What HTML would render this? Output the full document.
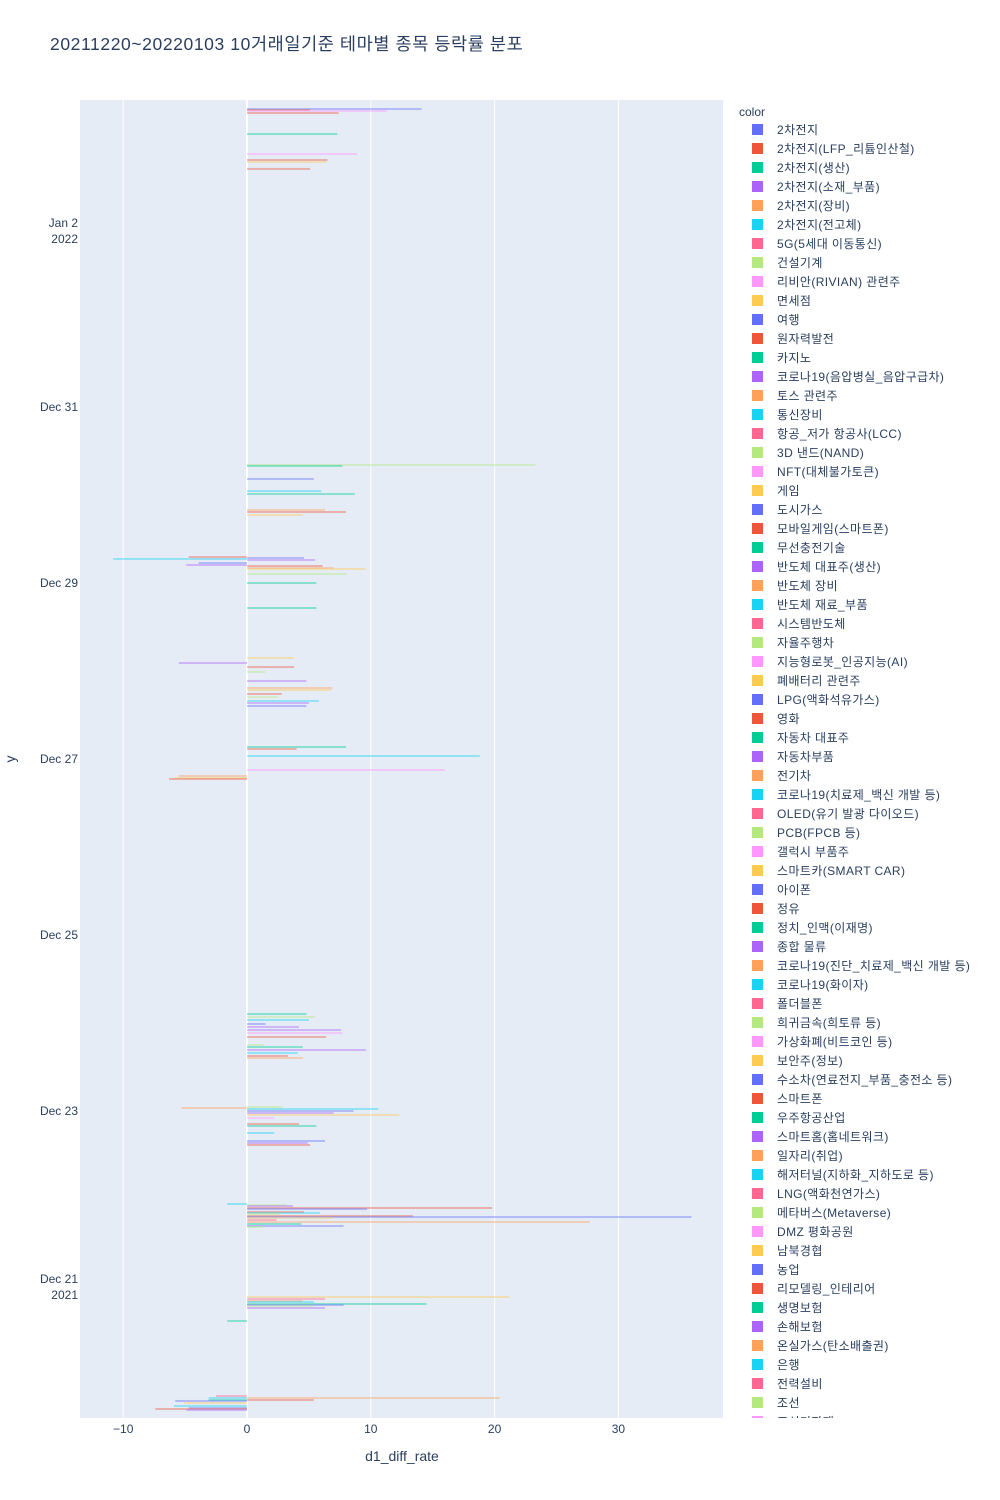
<!DOCTYPE html>
<html><head><meta charset="utf-8">
<style>
body{margin:0;background:#fff;font-family:"Liberation Sans","Noto Sans CJK KR",sans-serif;}
#wrap{position:relative;width:1000px;height:1500px;overflow:hidden;}
</style></head>
<body>
<div id="wrap">
<svg id="chart" width="1000" height="1500" xmlns="http://www.w3.org/2000/svg"></svg>
</div>
<script>
// ---- data ----
const tickLabels = [["Jan 2","2022"],["Dec 31"],["Dec 29"],["Dec 27"],["Dec 25"],["Dec 23"],["Dec 21","2021"]];
const tickDayVals = [12, 10, 8, 6, 4, 2, 0];
const xTicks = [-10, 0, 10, 20, 30];
// bar time positions (days since 2021-12-21 00:00)
const barDays = [13.386,13.375,13.364,13.341,13.102,12.875,12.807,12.784,12.705,
9.341,9.330,9.182,9.045,9.011,8.830,8.807,8.773,8.295,8.284,8.273,8.261,8.227,8.205,8.193,8.170,8.159,8.102,8.0,7.716,
7.148,7.091,7.045,6.989,6.886,6.807,6.784,6.739,6.705,6.659,6.636,6.602,
6.136,6.114,6.034,5.875,5.807,5.784,5.773,
3.102,3.068,3.034,2.989,2.955,2.920,2.886,2.841,2.750,2.727,2.693,2.659,2.625,2.602,
2.045,2.034,2.023,2.0,1.977,1.955,1.920,1.852,1.830,1.750,1.659,1.636,1.614,
0.943,0.932,0.920,0.898,0.886,0.852,0.841,0.830,0.807,0.795,0.784,0.761,0.739,0.716,0.693,0.682,
-0.114,-0.136,-0.159,-0.170,-0.193,-0.205,-0.216,-0.239,-0.386,
-1.239,-1.261,-1.261,-1.284,-1.284,-1.295,-1.318,-1.352,-1.375,-1.386,-1.398];
const barValues = [14.1,5.1,11.3,7.4,7.3,8.9,6.5,6.4,5.1,
23.3,7.7,5.4,6,8.7,6.3,8,4.5,-4.7,4.6,-10.8,5.5,-3.9,-4.9,6.1,7,9.6,8,5.6,5.6,
3.8,-5.5,3.8,1.5,4.8,6.9,6.8,2.8,2.5,5.8,5,4.8,
8,4,18.8,16,-5.5,-5.8,-6.3,
4.8,5.5,5,1.5,4.2,7.6,7.7,6.4,1.4,4.5,9.6,4.1,3.3,4.5,
2.9,-5.3,10.6,8.6,7,12.3,2.2,4.2,5.6,2.2,6.3,4.9,5.1,
-1.6,3.2,3.7,19.8,9.7,4.6,5.9,2.7,13.4,35.9,7,2.4,27.7,4.4,7.8,1.3,
21.2,6.3,4.5,5.4,14.5,7.8,5.4,6.3,-1.6,
-2.5,20.4,-3.1,-3.1,5.4,-5.8,-5.1,-5.9,-4.7,-7.4,-4.9];
const barColorIdx = [0,1,8,1,2,8,1,9,1,
7,2,0,5,2,4,1,9,1,0,5,3,0,3,1,4,9,7,2,2,
9,3,1,7,3,4,9,1,7,5,3,0,
2,1,5,8,4,9,1,
2,7,5,0,3,3,8,1,7,2,3,5,1,4,
7,4,5,0,3,9,8,1,2,5,0,3,1,
5,7,3,1,0,1,5,7,1,0,9,6,4,2,0,7,
9,6,4,5,2,0,7,3,2,
6,4,5,2,1,0,9,5,0,1,3];
const legendNames = ["2차전지","2차전지(LFP_리튬인산철)","2차전지(생산)","2차전지(소재_부품)","2차전지(장비)","2차전지(전고체)","5G(5세대 이동통신)","건설기계","리비안(RIVIAN) 관련주","면세점","여행","원자력발전","카지노","코로나19(음압병실_음압구급차)","토스 관련주","통신장비","항공_저가 항공사(LCC)","3D 낸드(NAND)","NFT(대체불가토큰)","게임","도시가스","모바일게임(스마트폰)","무선충전기술","반도체 대표주(생산)","반도체 장비","반도체 재료_부품","시스템반도체","자율주행차","지능형로봇_인공지능(AI)","폐배터리 관련주","LPG(액화석유가스)","영화","자동차 대표주","자동차부품","전기차","코로나19(치료제_백신 개발 등)","OLED(유기 발광 다이오드)","PCB(FPCB 등)","갤럭시 부품주","스마트카(SMART CAR)","아이폰","정유","정치_인맥(이재명)","종합 물류","코로나19(진단_치료제_백신 개발 등)","코로나19(화이자)","폴더블폰","희귀금속(희토류 등)","가상화폐(비트코인 등)","보안주(정보)","수소차(연료전지_부품_충전소 등)","스마트폰","우주항공산업","스마트홈(홈네트워크)","일자리(취업)","해저터널(지하화_지하도로 등)","LNG(액화천연가스)","메타버스(Metaverse)","DMZ 평화공원","남북경협","농업","리모델링_인테리어","생명보험","손해보험","온실가스(탄소배출권)","은행","전력설비","조선","조선기자재"];
const palette = ["#636efa","#EF553B","#00cc96","#ab63fa","#FFA15A","#19d3f3","#FF6692","#B6E880","#FF97FF","#FECB52"];

// ---- layout ----
const NS="http://www.w3.org/2000/svg";
const svg=document.getElementById('chart');
const PL=80,PR=723,PT=100,PB=1418;
const xScale=v=>247+v*12.38;
const yScale=d=>1287-d*88;
function mk(tag,attrs,parent){const e=document.createElementNS(NS,tag);for(const k in attrs)e.setAttribute(k,attrs[k]);(parent||svg).appendChild(e);return e;}

const title=mk('text',{x:50,y:50,'font-size':17.5,fill:'#2a3f5f','letter-spacing':'0.6'});
title.textContent="20211220~20220103 10거래일기준 테마별 종목 등락률 분포";



const bg=mk('rect',{x:PL,y:PT,width:PR-PL,height:PB-PT,fill:'#e5ecf6'});



xTicks.forEach(t=>{
  const g=mk('line',{x1:xScale(t),x2:xScale(t),y1:PT,y2:PB,stroke:'#fff','stroke-width':t===0?2:1});
  
  
  const lb=mk('text',{x:xScale(t),y:1433,'font-size':12,fill:'#2a3f5f','text-anchor':'middle'});
  lb.textContent=t<0?'\u2212'+Math.abs(t):String(t);
  
  
});

tickDayVals.forEach((d,i)=>{
  const y=yScale(d);
  const lines=tickLabels[i];
  const off=lines.length>1?-8:0;
  lines.forEach((s,j)=>{
    const lb=mk('text',{x:78,y:y+4+off+j*16,'font-size':12,fill:'#2a3f5f','text-anchor':'end'});
    lb.textContent=s;
    
    
  });
});

barDays.forEach((d,i)=>{
  const v=barValues[i];
  const x0=xScale(0),x1=xScale(v);
  const r=mk('rect',{x:Math.min(x0,x1),y:yScale(d)-1,width:Math.abs(x1-x0),height:2,fill:palette[barColorIdx[i]%10],opacity:0.4});
  
  
});

const xt=mk('text',{x:402,y:1461,'font-size':14,fill:'#2a3f5f','text-anchor':'middle'});
xt.textContent="d1_diff_rate";


const yt=mk('text',{x:15,y:759,'font-size':14,fill:'#2a3f5f','text-anchor':'middle',transform:'rotate(-90 15 759)'});
yt.textContent="y";



const lt=mk('text',{x:739,y:116,'font-size':12,fill:'#2a3f5f'});
lt.textContent="color";


const clip=mk('clipPath',{id:'lc'});mk('rect',{x:730,y:100,width:270,height:1318},clip);
const lg=mk('g',{'clip-path':'url(#lc)'});


legendNames.forEach((n,i)=>{
  const y=130+i*19;
  const g=mk('g',{},lg);
  
  
  mk('rect',{x:752,y:y-6,width:11,height:11,fill:palette[i%10]},g);
  const t=mk('text',{x:777,y:y+4,'font-size':12,fill:'#2a3f5f','letter-spacing':'0.4'},g);
  t.textContent=n;
});
</script>
</body></html>
